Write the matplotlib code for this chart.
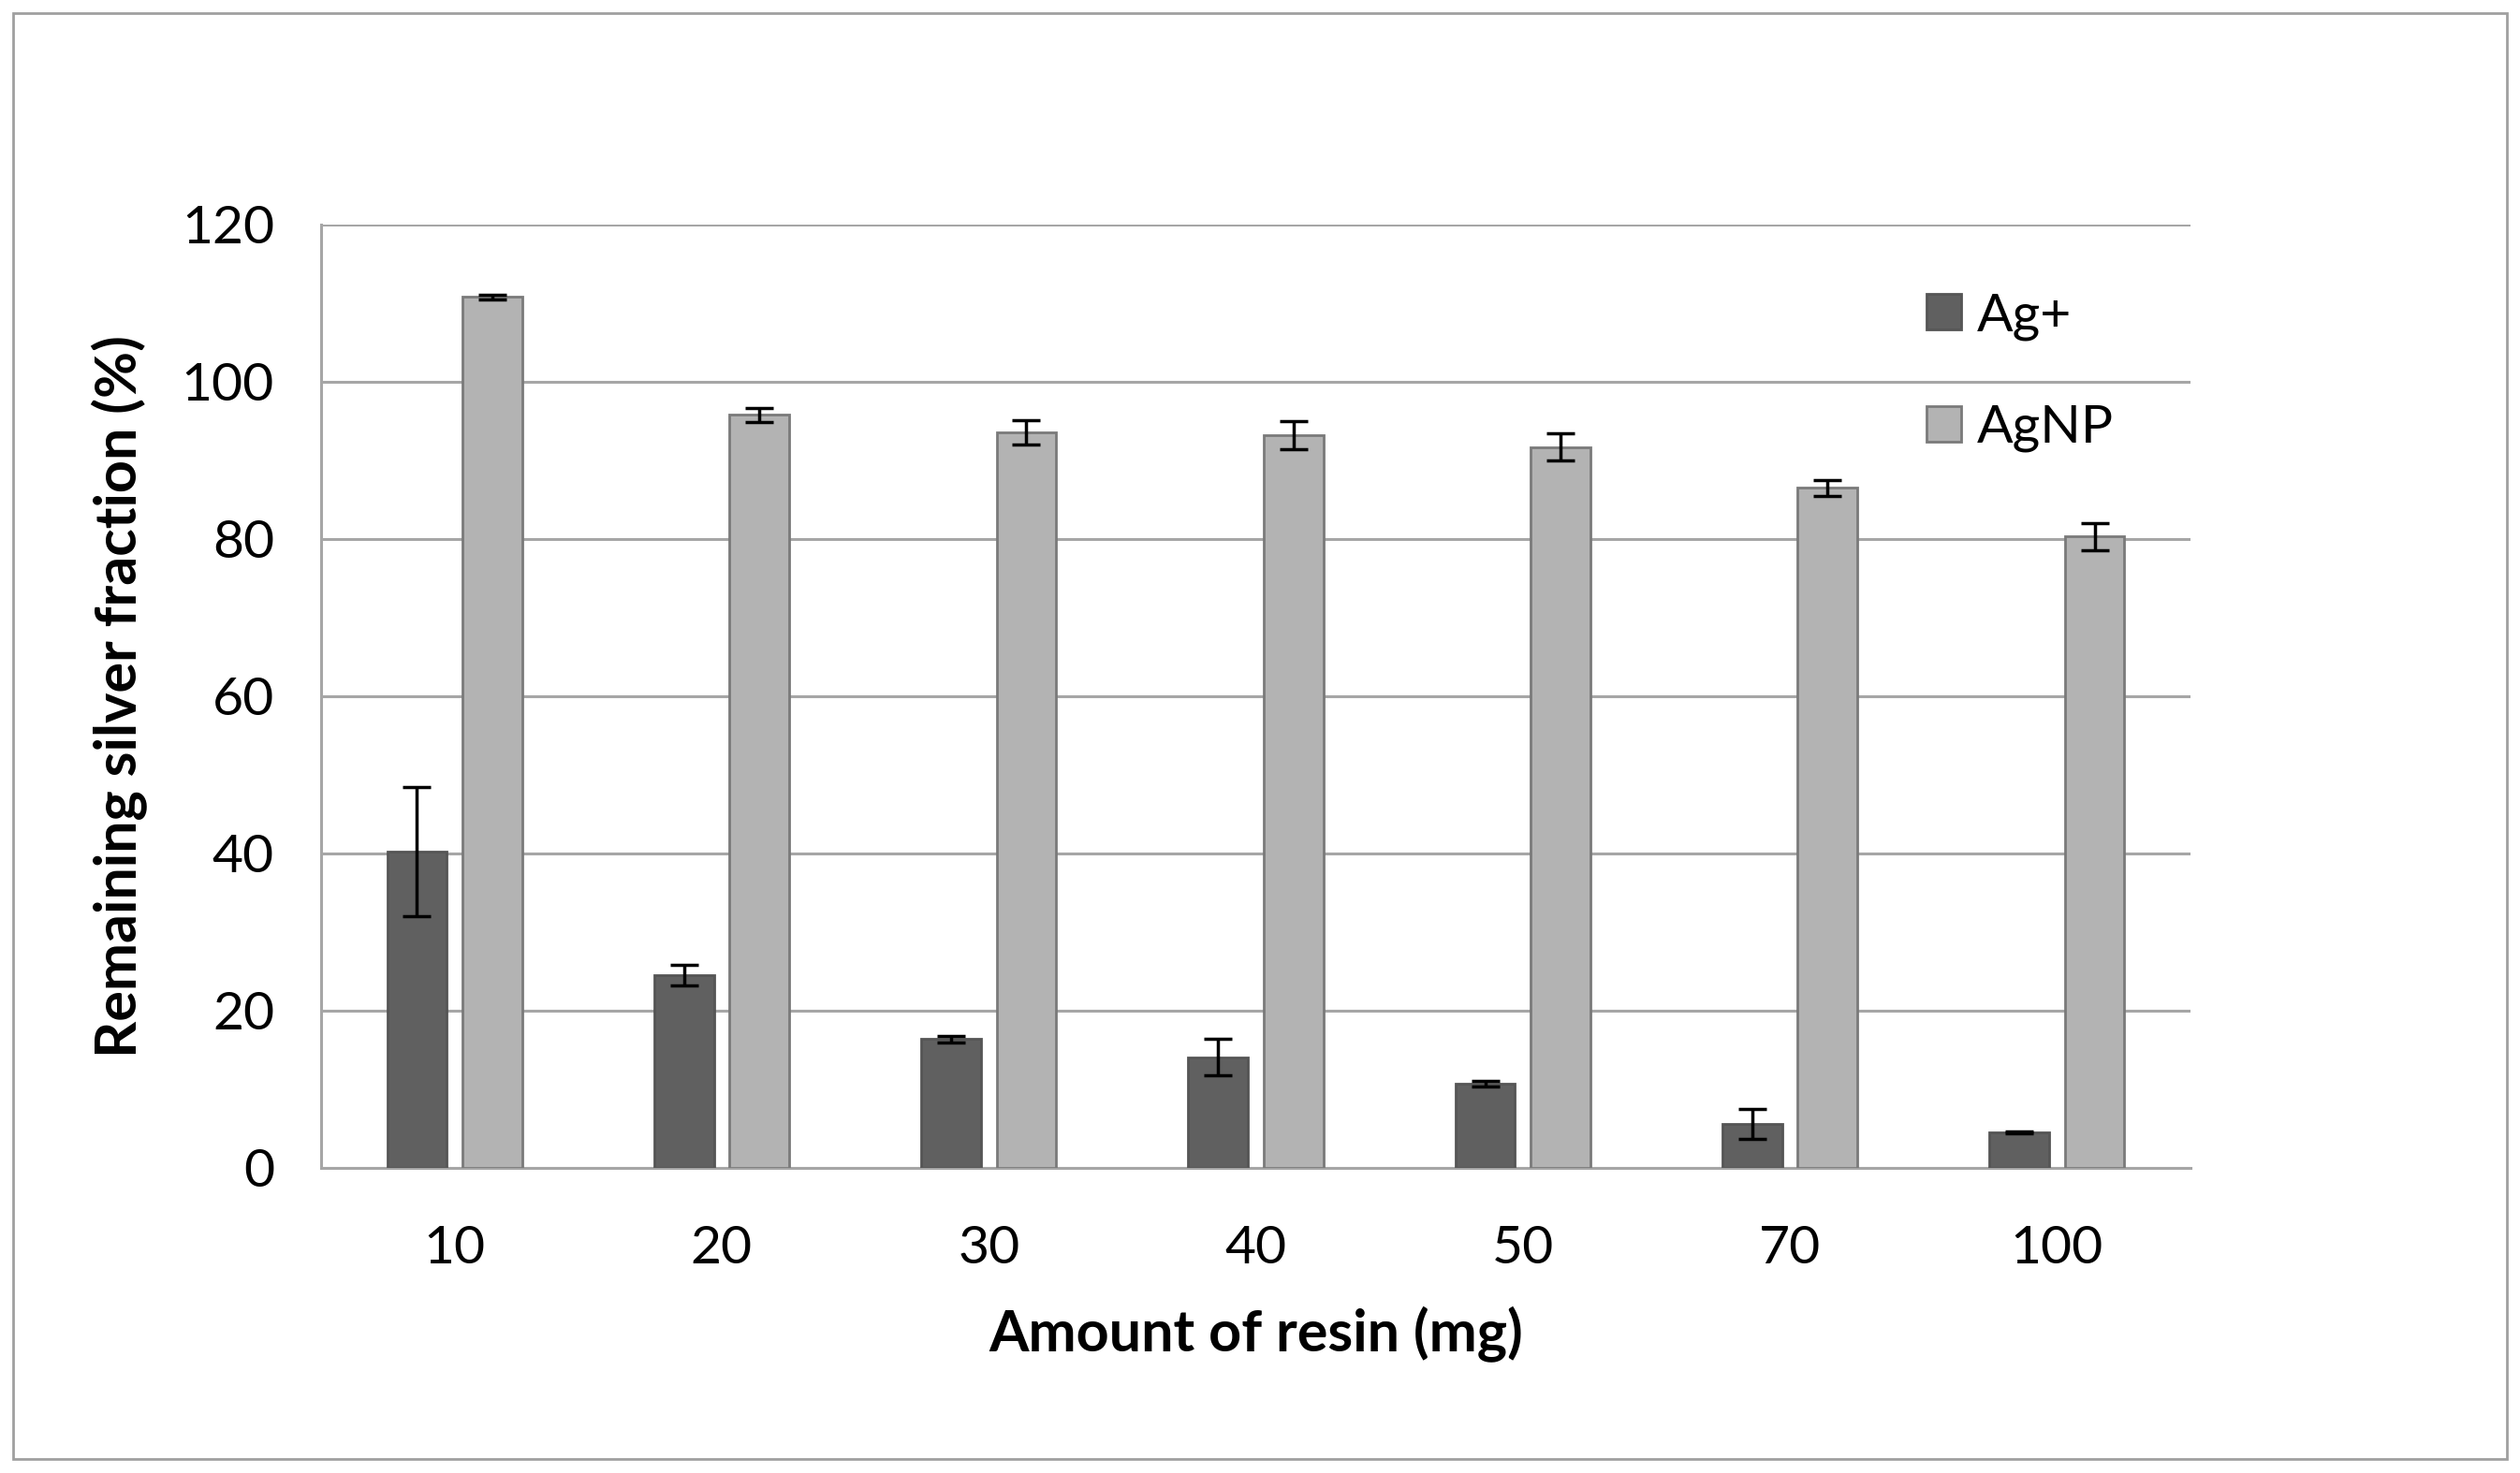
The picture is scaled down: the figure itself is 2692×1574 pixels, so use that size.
import matplotlib.pyplot as plt
import numpy as np
from matplotlib.patches import Rectangle

plt.rcParams['font.family'] = ['Lato', 'DejaVu Sans']

# amount of resin (mg) and remaining silver fraction (%)
resin = ["10", "20", "30", "40", "50", "70", "100"]
ag_ion = [40.2, 24.5, 16.4, 14.1, 10.7, 5.6, 4.5]
ag_ion_err = [8.2, 1.3, 0.4, 2.3, 0.4, 1.85, 0.1]
ag_np = [110.8, 95.8, 93.6, 93.2, 91.7, 86.5, 80.3]
ag_np_err = [0.3, 0.9, 1.55, 1.75, 1.7, 1.0, 1.7]

W, H = 2692, 1574
fig = plt.figure(figsize=(W / 100, H / 100), dpi=100)

# thin frame around the whole chart
fig.patches.append(Rectangle((14 / W, 1 - 1559 / H), (2678 - 14) / W, (1559 - 14) / H,
                             transform=fig.transFigure, fill=False,
                             edgecolor="#a0a0a0", linewidth=2))

ax = fig.add_axes([343 / W, 1 - 1248 / H, (2340 - 343) / W, (1248 - 240) / H])

x = np.arange(len(resin))
width = 0.223
off = 0.141
err_kw = dict(ecolor="black", elinewidth=2.5, capsize=11, capthick=2.5)
ax.bar(x - off, ag_ion, width, yerr=ag_ion_err, color="#606060", edgecolor="#555555",
       linewidth=2, label="Ag+", error_kw=err_kw, zorder=3)
ax.bar(x + off, ag_np, width, yerr=ag_np_err, color="#b3b3b3", edgecolor="#7a7a7a",
       linewidth=2, label="AgNP", error_kw=err_kw, zorder=3)

ax.set_xlim(-0.5, len(resin) - 0.5)
ax.set_ylim(0, 120)
ax.set_yticks(np.arange(0, 121, 20))
ax.set_xticks(x)
ax.set_xticklabels(resin)
ax.tick_params(length=0, labelsize=41)
ax.tick_params(axis="x", pad=44)
ax.tick_params(axis="y", pad=36)
ax.yaxis.grid(True, color="#a6a6a6", linewidth=2.2, zorder=0)
ax.set_axisbelow(True)
for side in ("top", "right"):
    ax.spines[side].set_visible(False)
for side in ("left", "bottom"):
    ax.spines[side].set_color("#a6a6a6")
    ax.spines[side].set_linewidth(2.2)

ax.set_xlabel("Amount of resin (mg)", fontsize=44, fontweight="bold", labelpad=26)
ax.set_ylabel("Remaining silver fraction (%)", fontsize=44, fontweight="bold", labelpad=26)

ax.legend(loc="upper left", bbox_to_anchor=(2058 / W, 1 - 312 / H),
          bbox_transform=fig.transFigure, frameon=False, fontsize=41,
          handlelength=0.65, handleheight=0.65, handletextpad=0.3,
          labelspacing=1.2, borderpad=0, borderaxespad=0)

fig.savefig("out.png", dpi=100)
